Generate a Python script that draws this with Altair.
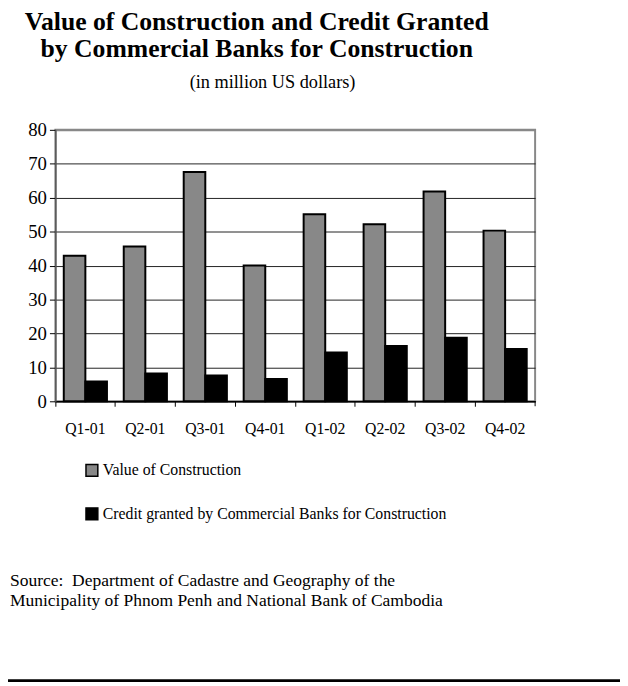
import altair as alt
import pandas as pd

quarters = ["Q1-01", "Q2-01", "Q3-01", "Q4-01", "Q1-02", "Q2-02", "Q3-02", "Q4-02"]
value_construction = [42.9, 45.6, 67.6, 40.0, 55.1, 52.2, 61.8, 50.3]
credit_granted = [5.8, 8.2, 7.6, 6.6, 14.4, 16.3, 18.7, 15.4]
series_names = ["Value of Construction", "Credit granted by Commercial Banks for Construction"]
series_colors = ["#888888", "#000000"]
y_ticks = [0, 10, 20, 30, 40, 50, 60, 70, 80]

title_line1 = "Value of Construction and Credit Granted"
title_line2 = "by Commercial Banks for Construction"
subtitle = "(in million US dollars)"
source_line1 = "Source:\u00a0 Department of Cadastre and Geography of the"
source_line2 = "Municipality of Phnom Penh and National Bank of Cambodia"

rows = []
for q, v, c in zip(quarters, value_construction, credit_granted):
    rows.append({"quarter": q, "series": series_names[0], "value": v})
    rows.append({"quarter": q, "series": series_names[1], "value": c})
df = pd.DataFrame(rows)

FONT = "'Liberation Serif', 'Times New Roman', Times, serif"
W, H = 486, 275

bars = alt.Chart(df).mark_bar(stroke="black", strokeWidth=2).encode(
    x=alt.X(
        "quarter:N",
        sort=quarters,
        title=None,
        scale=alt.Scale(paddingInner=0.28, paddingOuter=0.14),
        axis=alt.Axis(
            bandPosition=-0.194,
            labelAngle=0,
            labelFont=FONT,
            labelFontSize=16,
            labelColor="black",
            labelPadding=15,
            tickSize=5,
            tickColor="black",
            domainColor="black",
            domainWidth=1.5,
            grid=False,
        ),
    ),
    xOffset=alt.XOffset("series:N", sort=series_names),
    y=alt.Y(
        "value:Q",
        title=None,
        scale=alt.Scale(domain=[0, 80], nice=False),
        axis=alt.Axis(
            values=y_ticks,
            labelFont=FONT,
            labelFontSize=19,
            labelColor="black",
            labelPadding=3,
            tickSize=6,
            tickColor="black",
            domainColor="#555555",
            domainWidth=1.5,
            grid=True,
            gridColor={"condition": {"test": "datum.value === 80", "value": "#888888"}, "value": "#222222"},
            gridWidth={"condition": {"test": "datum.value === 80", "value": 2}, "value": 1},
        ),
    ),
    color=alt.Color(
        "series:N",
        sort=series_names,
        scale=alt.Scale(domain=series_names, range=series_colors),
        legend=alt.Legend(
            title=None,
            orient="none",
            legendX=29,
            legendY=337,
            direction="vertical",
            symbolType="square",
            symbolSize=144,
            symbolStrokeColor="black",
            symbolStrokeWidth=1.5,
            symbolOpacity=1,
            labelFont=FONT,
            labelFontSize=16,
            labelColor="black",
            labelOffset=3,
            rowPadding=26,
            labelLimit=500,
        ),
    ),
)

last_tick = alt.Chart(pd.DataFrame({"k": [0]})).mark_rule(color="black", strokeWidth=1).encode(
    x=alt.value(W), y=alt.value(H), y2=alt.value(H + 5)
)


def label(text, x, y, size, weight="normal", align="center"):
    return alt.Chart(pd.DataFrame({"t": [text]})).mark_text(
        font=FONT, fontSize=size, fontWeight=weight, align=align, baseline="alphabetic", color="black"
    ).encode(x=alt.value(x), y=alt.value(y), text="t:N")


t1 = label(title_line1, 204, -101, 26, "bold")
t2 = label(title_line2, 204, -74, 26, "bold")
t3 = label(subtitle, 220, -42, 18.5)
s1 = label(source_line1, -46, 462, 17.7, align="left")
s2 = label(source_line2, -46, 482, 17.7, align="left")

bottom_rule = alt.Chart(pd.DataFrame({"k": [0]})).mark_rule(color="black", strokeWidth=3).encode(
    x=alt.value(-56), x2=alt.value(580), y=alt.value(558)
)

chart = alt.layer(bars, last_tick, t1, t2, t3, s1, s2, bottom_rule).properties(
    width=W,
    height=H,
    autosize=alt.AutoSizeParams(type="none"),
    padding={"left": 48, "top": 119, "right": 86, "bottom": 284},
).configure_view(stroke="#888888", strokeWidth=2)

chart.save("out.html", embed_options={"renderer": "svg", "actions": False})
